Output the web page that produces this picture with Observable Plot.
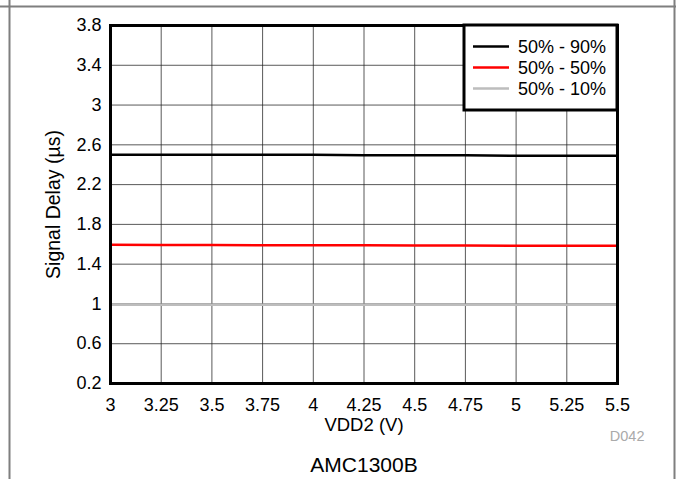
<!DOCTYPE html>
<html>
<head>
<meta charset="utf-8">
<script src="https://cdn.jsdelivr.net/npm/d3@7"></script>
<script src="https://cdn.jsdelivr.net/npm/@observablehq/plot@0.6"></script>
<style>
  html, body { margin: 0; padding: 0; background: #fff; }
  #chart { width: 676px; height: 479px; }
  svg { font-family: "Liberation Sans", Arial, Helvetica, sans-serif; }
</style>
</head>
<body>
<div id="chart"></div>
<script>
// ---- data ----
const vdd2 = [3, 3.25, 3.5, 3.75, 4, 4.25, 4.5, 4.75, 5, 5.25, 5.5];
const delay90 = [2.50, 2.50, 2.50, 2.50, 2.50, 2.495, 2.495, 2.495, 2.49, 2.49, 2.49];
const delay50 = [1.595, 1.593, 1.592, 1.591, 1.590, 1.589, 1.588, 1.587, 1.586, 1.586, 1.585];
const delay10 = [0.992, 0.992, 0.991, 0.991, 0.991, 0.991, 0.991, 0.991, 0.991, 0.991, 0.991];
const seriesNames = ["50% - 90%", "50% - 50%", "50% - 10%"];
const seriesColors = ["#000000", "#ff0000", "#bdbdbd"];
const xTicks = [3, 3.25, 3.5, 3.75, 4, 4.25, 4.5, 4.75, 5, 5.25, 5.5];
const yTicks = [0.2, 0.6, 1, 1.4, 1.8, 2.2, 2.6, 3, 3.4, 3.8];
const xLabel = "VDD2 (V)";
const yLabel = "Signal Delay (µs)";
const caption = "AMC1300B";
const figId = "D042";

const seriesValues = [delay90, delay50, delay10];
const rows = [];
seriesNames.forEach((name, i) => {
  vdd2.forEach((x, j) => rows.push({series: name, x, y: seriesValues[i][j]}));
});

const W = 676, H = 479;
const mL = 110, mR = 59, mT = 25, mB = 96;

const chart = Plot.plot({
  width: W,
  height: H,
  marginLeft: mL,
  marginRight: mR,
  marginTop: mT,
  marginBottom: mB,
  style: {fontFamily: "'Liberation Sans', Arial, sans-serif", background: "#fff", color: "#000"},
  x: {domain: [3, 5.5], ticks: xTicks, tickFormat: d => String(d)},
  y: {domain: [0.2, 3.8], ticks: yTicks, tickFormat: d => String(+d.toFixed(2))},
  color: {domain: seriesNames, range: seriesColors},
  marks: [
    Plot.gridX(xTicks, {stroke: "#222", strokeOpacity: 0.75, strokeWidth: 1}),
    Plot.gridY(yTicks, {stroke: "#222", strokeOpacity: 0.75, strokeWidth: 1}),
    Plot.line(rows, {x: "x", y: "y", z: "series", stroke: "series", strokeWidth: 2.5}),
    Plot.frame({stroke: "#000", strokeWidth: 3}),
    Plot.axisX({ticks: xTicks, tickSize: 0, tickPadding: 15, fontSize: 18, label: null, tickFormat: d => String(d)}),
    Plot.axisY({ticks: yTicks, tickSize: 0, tickPadding: 9, fontSize: 18, label: null, tickFormat: d => String(+d.toFixed(2))}),
    Plot.text([xLabel], {frameAnchor: "bottom", lineAnchor: "middle", dy: 42, fontSize: 18.5, fill: "#000"}),
    Plot.text([yLabel], {frameAnchor: "left", textAnchor: "middle", lineAnchor: "middle", dx: -57, rotate: -90, fontSize: 19.5, fill: "#000"}),
    Plot.text([figId], {frameAnchor: "bottom-right", textAnchor: "end", lineAnchor: "middle", dx: 27, dy: 53, fontSize: 14.5, fill: "#aaa"}),
    Plot.text([caption], {frameAnchor: "bottom", lineAnchor: "middle", dy: 82, fontSize: 21, fill: "#000"})
  ]
});

document.getElementById("chart").appendChild(chart);

// outer page border (decoration)
const svg = d3.select(chart);
const border = svg.append("g").attr("stroke", "#7f7f7f").attr("stroke-width", 2).attr("fill", "none");
border.append("line").attr("x1", 0).attr("x2", W).attr("y1", 6.5).attr("y2", 6.5);
border.append("line").attr("x1", 9.5).attr("x2", 9.5).attr("y1", 0).attr("y2", H);
border.append("line").attr("x1", 674.5).attr("x2", 674.5).attr("y1", 0).attr("y2", H);

// legend (top-right inside plot frame)
const px = W - mR; // plot right edge
const lg = svg.append("g").attr("text-anchor", "start");
lg.append("rect")
  .attr("x", px - 153).attr("y", mT)
  .attr("width", 153).attr("height", 85)
  .attr("fill", "#fff").attr("stroke", "#000").attr("stroke-width", 3);
seriesNames.forEach((name, i) => {
  const cy = mT + 21.5 + i * 21;
  lg.append("line")
    .attr("x1", px - 144).attr("x2", px - 108)
    .attr("y1", cy).attr("y2", cy)
    .attr("stroke", seriesColors[i]).attr("stroke-width", 2.5);
  lg.append("text")
    .attr("x", px - 99).attr("y", cy)
    .attr("dy", "0.35em")
    .attr("text-anchor", "start")
    .attr("font-size", 18)
    .attr("fill", "#000")
    .text(name);
});
</script>
</body>
</html>
